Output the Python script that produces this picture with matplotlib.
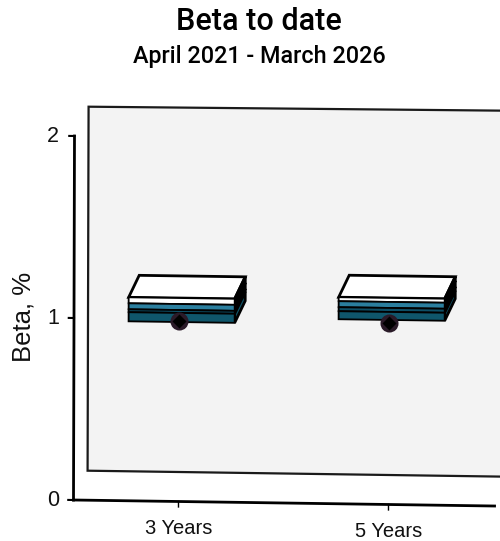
import matplotlib.pyplot as plt
from matplotlib.patches import Polygon
from matplotlib.transforms import Affine2D

categories = ['3 Years', '5 Years']
# edges of the bands, top to bottom
band_edges = [[1.118, 1.085, 1.052, 1.036, 0.986],
              [1.135, 1.113, 1.08, 1.058, 1.014]]
markers = [0.992, 0.997]
band_colors = ['#ffffff', '#2b7f9f', '#0d4f66', '#0f566b']
yticks = [0, 1, 2]

box_left, box_right = -0.24, 0.265
box_depth = 0.75

fig = plt.figure(figsize=(5, 5.41), dpi=100)
ax = fig.add_axes([0, 0, 1, 1])
ax.set_xlim(0, 500)
ax.set_ylim(541, 0)
ax.axis('off')

# slightly skewed chart plane: category index / beta value -> pixels
tr = Affine2D.from_values(210, 3, 0.5, -182, 178.5, 501.5) + ax.transData


def depth(x, y, d):
    # step back into the chart, same skew as the wall
    return x + d * 14 / 210, y + d * 29.5 / 182


def poly(pts, **kw):
    ax.add_patch(Polygon(pts, closed=True, transform=tr, joinstyle='miter', **kw))


# back wall
wx0, wx1 = -0.5, 1.7
poly([depth(wx0, 0, 1), depth(wx1, 0, 1), depth(wx1, 2.012, 1), depth(wx0, 2, 1)],
     facecolor='#f3f3f3', edgecolor='#1a1a1a', lw=1.6, zorder=1)

# axes
ax.plot([-0.5, 1.505], [0, 0], color='black', lw=2, transform=tr, zorder=2)
ax.plot([-0.5, -0.5], [0, 2], color='black', lw=2, transform=tr, zorder=2)
for v in yticks:
    ax.plot([-0.525, -0.5], [v, v], color='black', lw=1.5, transform=tr, zorder=2)
    ax.text(53, 500 - v * 182, str(v), ha='center', va='center', fontsize=15.5,
            family='Liberation Sans', color='#111111')
for i, c in enumerate(categories):
    ax.plot([i, i], [0, -0.03], color='black', lw=1, transform=tr, zorder=2)
    ax.text(i, -0.148, c, transform=tr, ha='center', va='center', fontsize=14.5,
            family='Liberation Sans', color='#111111')

# boxes
for i, edges in enumerate(band_edges):
    x0, x1 = i + box_left, i + box_right
    top = edges[0]
    poly([(x0, top), (x1, top), depth(x1, top, box_depth), depth(x0, top, box_depth)],
         facecolor='white', edgecolor='black', lw=2, zorder=3)
    for k, col in enumerate(band_colors):
        hi, lo = edges[k], edges[k + 1]
        poly([(x1, hi), depth(x1, hi, box_depth), depth(x1, lo, box_depth), (x1, lo)],
             facecolor=col if k else 'black', edgecolor='black', lw=2, zorder=3)
        poly([(x0, hi), (x1, hi), (x1, lo), (x0, lo)],
             facecolor=col, edgecolor='black', lw=1.3, zorder=4)

for i, m in enumerate(markers):
    ax.plot([i], [m], marker='o', ms=13, color='#2a1a28', mec='none', transform=tr, zorder=5)
    ax.plot([i], [m], marker='D', ms=6.8, color='black', mec='none', transform=tr, zorder=6)

ax.text(24, 317, 'Beta, %', rotation=90, ha='center', va='center', fontsize=18.5,
        family='Liberation Sans', color='#111111')
ax.text(259, 22, 'Beta to date', ha='center', va='center', fontsize=22,
        family='Roboto', weight='medium', color='black')
ax.text(259, 57, 'April 2021 - March 2026', ha='center', va='center', fontsize=16.8,
        family='Roboto', weight='medium', color='black')

fig.savefig('out.png', dpi=100)
